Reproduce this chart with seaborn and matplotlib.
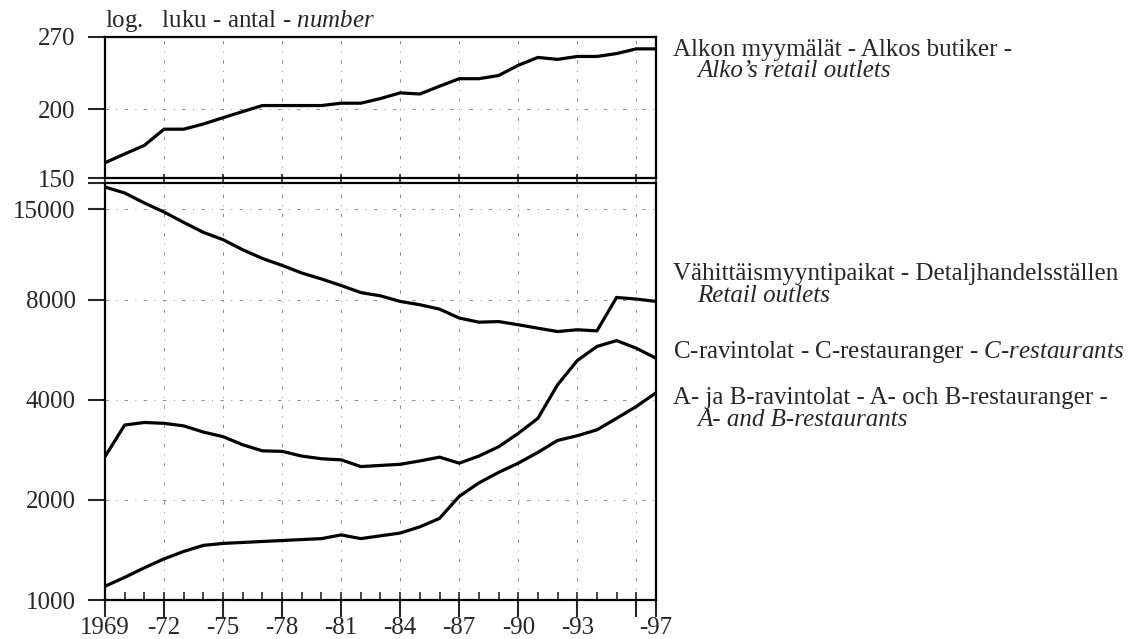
import pandas as pd
import seaborn as sns
import matplotlib
matplotlib.use("Agg")
import matplotlib.pyplot as plt
from matplotlib.ticker import FixedLocator, NullLocator

# Data
years = list(range(1969, 1998))
alko_outlets = [160, 166, 172, 184, 184, 188, 193, 198, 203, 203, 203, 203, 205, 205,
                209, 214, 213, 220, 227, 227, 230, 240, 248, 246, 249, 249, 252, 257, 257]
retail_outlets = [17470, 16760, 15640, 14690, 13670, 12760, 12130, 11310, 10650, 10150,
                  9630, 9240, 8830, 8410, 8220, 7910, 7730, 7500, 7050, 6850, 6880, 6730,
                  6570, 6420, 6500, 6450, 8130, 8040, 7910]
c_restaurants = [2700, 3360, 3420, 3400, 3340, 3200, 3100, 2930, 2810, 2800, 2710, 2660,
                 2640, 2520, 2540, 2560, 2620, 2690, 2580, 2710, 2890, 3170, 3520, 4440,
                 5250, 5790, 6030, 5720, 5340]
ab_restaurants = [1100, 1170, 1250, 1330, 1400, 1460, 1480, 1490, 1500, 1510, 1520, 1530,
                  1570, 1530, 1560, 1590, 1660, 1760, 2050, 2250, 2420, 2580, 2780, 3020,
                  3120, 3250, 3520, 3820, 4200]

x_ticks = [1969, 1972, 1975, 1978, 1981, 1984, 1987, 1990, 1993, 1996, 1997]
x_labels = ["1969", "-72", "-75", "-78", "-81", "-84", "-87", "-90", "-93", "", "-97"]
top_ticks = [150, 200, 270]
bottom_ticks = [1000, 2000, 4000, 8000, 15000, 18000]
bottom_labels = ["1000", "2000", "4000", "8000", "15000", ""]

df_top = pd.DataFrame({"year": years, "value": alko_outlets})
df_bottom = pd.DataFrame({
    "year": years * 3,
    "value": retail_outlets + c_restaurants + ab_restaurants,
    "series": ["retail"] * 29 + ["c"] * 29 + ["ab"] * 29,
})

sns.set_style("white")
plt.rcParams["font.family"] = ["Liberation Serif", "DejaVu Serif"]
plt.rcParams["mathtext.fontset"] = "custom"
plt.rcParams["mathtext.rm"] = "Liberation Serif"
plt.rcParams["mathtext.it"] = "Liberation Serif:italic"

FS = 18
fig = plt.figure(figsize=(11.39, 6.39), dpi=100)
ax_top = fig.add_axes([0.0922, 0.7210, 0.4837, 0.2211])
ax_bot = fig.add_axes([0.0922, 0.0610, 0.4837, 0.6531])

sns.lineplot(data=df_top, x="year", y="value", ax=ax_top, color="black", linewidth=2.3)
sns.lineplot(data=df_bottom, x="year", y="value", units="series", estimator=None,
             ax=ax_bot, color="black", linewidth=2.3)

grid_kw = dict(color="#777777", linestyle=(0, (4, 9, 1, 9)), linewidth=0.6)

for ax in (ax_top, ax_bot):
    ax.set_yscale("log")
    ax.set_xlim(1969, 1997)
    ax.set_xlabel("")
    ax.set_ylabel("")
    for s in ax.spines.values():
        s.set_visible(True)
        s.set_color("black")
        s.set_linewidth(1.6)
    ax.yaxis.set_minor_locator(NullLocator())
    ax.tick_params(axis="y", which="major", direction="out", length=12, width=1.5,
                   labelsize=FS, pad=9, left=True)
    for yr in x_ticks[1:-1]:
        ax.axvline(yr, **grid_kw, zorder=0)

ax_top.set_ylim(150, 270)
ax_top.yaxis.set_major_locator(FixedLocator(top_ticks))
ax_top.set_yticklabels([str(t) for t in top_ticks])
for t in top_ticks[1:-1]:
    ax_top.axhline(t, **grid_kw, zorder=0)
ax_top.set_xticks(x_ticks)
ax_top.tick_params(axis="x", which="major", direction="inout", length=6, width=1.2,
                   labelbottom=False, bottom=True)

ax_bot.set_ylim(1000, 18000)
ax_bot.yaxis.set_major_locator(FixedLocator(bottom_ticks))
ax_bot.set_yticklabels(bottom_labels)
for t in bottom_ticks[1:-1]:
    ax_bot.axhline(t, **grid_kw, zorder=0)
ax_bot.set_xticks(x_ticks)
ax_bot.set_xticklabels(x_labels)
ax_bot.set_xticks(years, minor=True)
ax_bot.xaxis.remove_overlapping_locs = False
ax_bot.tick_params(axis="x", which="major", direction="out", length=12, width=1.5,
                   labelsize=FS, pad=0, bottom=True)
ax_bot.tick_params(axis="x", which="minor", direction="in", length=6, width=1.2,
                   bottom=True)

# axis caption
fig.text(0.0922, 1 - 21 / 639, r"log.   luku - antal - $\mathit{number}$", fontsize=FS,
         ha="left", va="center")

# series labels on the right
xl = 673 / 1139
xi = 697 / 1139
def ypos(py):
    return 1 - py / 639

fig.text(xl, ypos(50), "Alkon myymälät - Alkos butiker -", fontsize=FS, va="center")
fig.text(xi, ypos(71), "Alko’s retail outlets", fontsize=FS, va="center", style="italic")
fig.text(xl, ypos(274), "Vähittäismyyntipaikat - Detaljhandelsställen", fontsize=FS,
         va="center")
fig.text(xi, ypos(296), "Retail outlets", fontsize=FS, va="center", style="italic")
fig.text(xl, ypos(352),
         r"C-ravintolat - C-restauranger - $\mathit{C}$-$\mathit{restaurants}$",
         fontsize=FS, va="center")
fig.text(xl, ypos(398), "A- ja B-ravintolat - A- och B-restauranger -", fontsize=FS,
         va="center")
fig.text(xi, ypos(420), "A- and B-restaurants", fontsize=FS, va="center", style="italic")

fig.savefig("out.png", dpi=100, facecolor="white")
